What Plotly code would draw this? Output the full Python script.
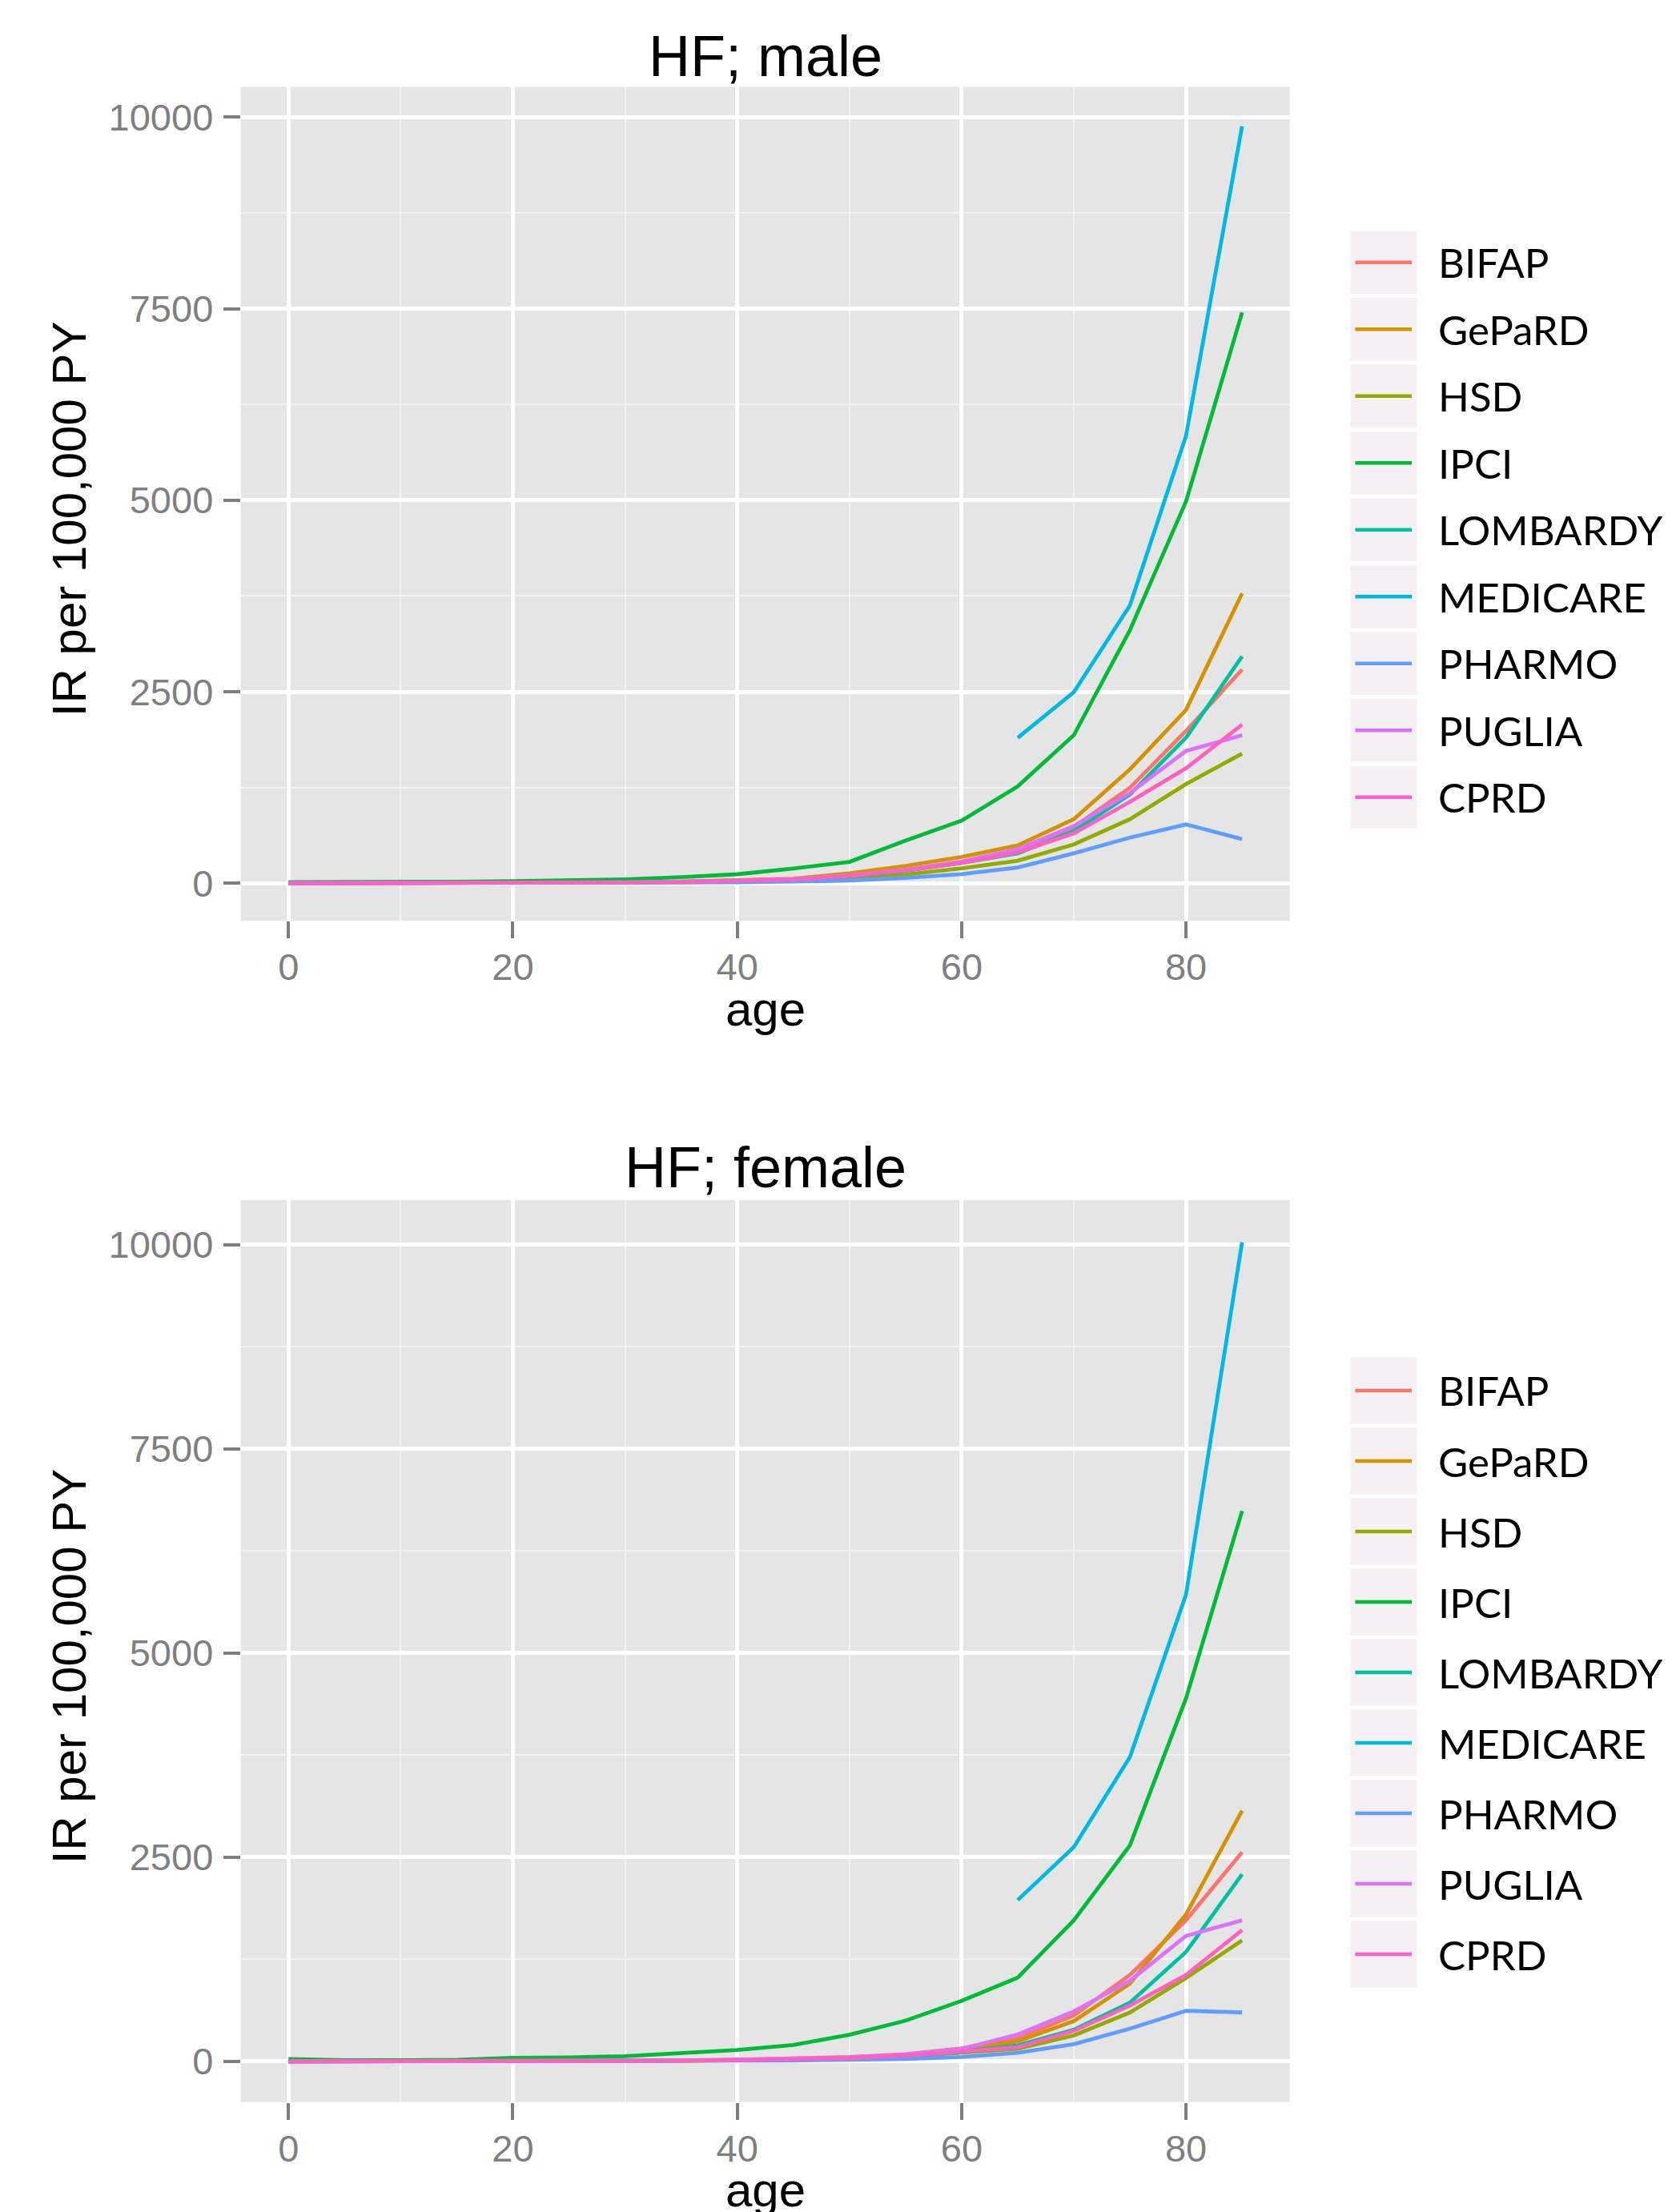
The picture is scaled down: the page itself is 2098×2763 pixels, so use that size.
import plotly.graph_objects as go

W, H = 2098, 2763
OFF = 8  # page body margin of the html page

# ---------------- data ----------------
ages = [0, 5, 10, 15, 20, 25, 30, 35, 40, 45, 50, 55, 60, 65, 70, 75, 80, 85]
medicare_ages = [65, 70, 75, 80, 85]

series_names = ["BIFAP", "GePaRD", "HSD", "IPCI", "LOMBARDY", "MEDICARE", "PHARMO", "PUGLIA", "CPRD"]
series_colors = ["#F8766D", "#D39200", "#93AA00", "#00BA38", "#00C19F",
                 "#00B9E3", "#619CFF", "#DB72FB", "#FF61C3"]

# male
male_bifap    = [2, 2, 2, 3, 5, 8, 12, 20, 30, 50, 95, 170, 270, 425, 733, 1247, 1988, 2790]
male_gepard   = [3, 3, 3, 4, 6, 9, 14, 22, 35, 60, 130, 226, 345, 495, 836, 1487, 2262, 3783]
male_hsd      = [1, 1, 1, 2, 3, 5, 8, 13, 20, 35, 70, 115, 195, 295, 507, 836, 1295, 1693]
male_ipci     = [15, 15, 15, 20, 28, 35, 52, 80, 118, 192, 279, 557, 817, 1265, 1933, 3304, 4983, 7450]
male_lombardy = [2, 2, 2, 3, 4, 7, 11, 18, 28, 48, 92, 165, 265, 391, 679, 1158, 1899, 2961]
male_medicare = [1899, 2495, 3626, 5840, 9880]
male_pharmo   = [1, 1, 1, 1, 2, 3, 5, 8, 13, 22, 35, 70, 120, 206, 391, 596, 768, 576]
male_puglia   = [2, 2, 2, 3, 5, 8, 13, 21, 32, 55, 100, 178, 285, 445, 747, 1179, 1727, 1933]
male_cprd     = [2, 2, 2, 3, 5, 8, 12, 19, 29, 50, 95, 168, 265, 404, 651, 1062, 1501, 2070]

# female
female_bifap    = [2, 2, 2, 2, 3, 5, 8, 12, 20, 35, 55, 90, 160, 282, 565, 1059, 1729, 2562]
female_gepard   = [2, 2, 2, 2, 3, 5, 7, 11, 18, 30, 45, 75, 141, 247, 494, 953, 1800, 3070]
female_hsd      = [1, 1, 1, 1, 2, 3, 5, 8, 13, 22, 35, 60, 110, 155, 318, 600, 1023, 1482]
female_ipci     = [30, 15, 15, 20, 45, 49, 65, 98, 140, 203, 327, 500, 742, 1026, 1729, 2646, 4446, 6739]
female_lombardy = [1, 1, 1, 1, 2, 4, 6, 10, 16, 27, 40, 65, 120, 198, 388, 720, 1341, 2293]
female_medicare = [1976, 2625, 3726, 5716, 10030]
female_pharmo   = [1, 1, 1, 1, 1, 2, 3, 5, 8, 12, 20, 30, 56, 106, 212, 402, 621, 600]
female_puglia   = [2, 2, 2, 2, 3, 5, 8, 13, 22, 35, 50, 85, 154, 330, 614, 988, 1538, 1729]
female_cprd     = [2, 2, 2, 2, 3, 5, 7, 11, 17, 28, 42, 70, 125, 176, 374, 685, 1059, 1609]

male_values = [male_bifap, male_gepard, male_hsd, male_ipci, male_lombardy,
               male_medicare, male_pharmo, male_puglia, male_cprd]
female_values = [female_bifap, female_gepard, female_hsd, female_ipci, female_lombardy,
                 female_medicare, female_pharmo, female_puglia, female_cprd]

panel_titles = ["HF; male", "HF; female"]
x_title = "age"
y_title = "IR per 100,000 PY"

# ---------------- layout geometry (page pixels) ----------------
def px(x):
    return (x - OFF) / W


def py(y):
    return 1 - (y - OFF) / H


plot_left, plot_right = 300.7, 1610.7
panels = [
    dict(top=108.3, bottom=1150.0, yrange=[-488, 10397], title_y=70,
         legend_y0=327.7, legend_step=83.5),
    dict(top=1499.0, bottom=2625.7, yrange=[-497, 10546], title_y=1458,
         legend_y0=1737.0, legend_step=88.0),
]

fig = go.Figure()
shapes = []
annotations = []

AX_FONT = "Liberation Sans, Arial, sans-serif"
LEG_FONT = "Lato, Open Sans, sans-serif"

for p_i, (panel, values) in enumerate(zip(panels, [male_values, female_values])):
    xa = "x" if p_i == 0 else "x2"
    ya = "y" if p_i == 0 else "y2"
    for name, color, vals in zip(series_names, series_colors, values):
        xs = medicare_ages if name == "MEDICARE" else ages
        fig.add_trace(go.Scatter(x=xs, y=vals, mode="lines", name=name,
                                 line=dict(color=color, width=4.8),
                                 xaxis=xa, yaxis=ya, showlegend=False))

    ax_common = dict(
        showline=False, zeroline=False, showgrid=True, gridcolor="white", gridwidth=4.5,
        ticks="outside", ticklen=21, tickwidth=4, tickcolor="#7F7F7F",
        tickfont=dict(family=AX_FONT, size=47, color="#7F7F7F"),
    )
    xkey = "xaxis" if p_i == 0 else "xaxis2"
    ykey = "yaxis" if p_i == 0 else "yaxis2"
    fig.layout[xkey] = dict(
        domain=[px(plot_left), px(plot_right)], range=[-4.25, 89.25],
        anchor=ya, tick0=0, dtick=20, ticklabelstandoff=-4,
        minor=dict(tick0=0, dtick=10, showgrid=True, gridcolor="#F2F2F2", gridwidth=2.2, ticks=""),
        **ax_common)
    fig.layout[ykey] = dict(
        domain=[py(panel["bottom"]), py(panel["top"])], range=panel["yrange"],
        anchor=xa, tick0=0, dtick=2500, tickformat="d", ticklabelstandoff=3,
        minor=dict(tick0=0, dtick=1250, showgrid=True, gridcolor="#F2F2F2", gridwidth=2.2, ticks=""),
        **ax_common)

    cx = (plot_left + plot_right) / 2
    # panel title
    annotations.append(dict(text=panel_titles[p_i], x=px(cx), y=py(panel["title_y"]),
                            xref="paper", yref="paper", xanchor="center", yanchor="middle",
                            showarrow=False, font=dict(family=AX_FONT, size=72, color="black")))
    # x axis title
    annotations.append(dict(text=x_title, x=px(cx), y=py(panel["bottom"] + 110),
                            xref="paper", yref="paper", xanchor="center", yanchor="middle",
                            showarrow=False, font=dict(family=AX_FONT, size=60, color="black")))
    # y axis title
    annotations.append(dict(text=y_title, x=px(86), y=py((panel["top"] + panel["bottom"]) / 2 + 19),
                            xref="paper", yref="paper", xanchor="center", yanchor="middle",
                            textangle=-90, showarrow=False,
                            font=dict(family=AX_FONT, size=60, color="black")))

    # legend (manual, ggplot style)
    for k, (name, color) in enumerate(zip(series_names, series_colors)):
        yc = panel["legend_y0"] + k * panel["legend_step"]
        half = (panel["legend_step"] - 5) / 2
        shapes.append(dict(type="rect", xref="paper", yref="paper",
                           x0=px(1686.4), x1=px(1769.5), y0=py(yc + half), y1=py(yc - half),
                           fillcolor="#F5F0F3", line=dict(width=0), layer="above"))
        shapes.append(dict(type="line", xref="paper", yref="paper",
                           x0=px(1692.4), x1=px(1763.0), y0=py(yc), y1=py(yc),
                           line=dict(color=color, width=4.5), layer="above"))
        annotations.append(dict(text=name, x=px(1794), y=py(yc), xref="paper", yref="paper",
                                xanchor="left", yanchor="middle", showarrow=False,
                                font=dict(family=LEG_FONT, size=51, color="black")))

fig.update_layout(
    width=W, height=H, margin=dict(l=0, r=0, t=0, b=0),
    paper_bgcolor="white", plot_bgcolor="#E5E5E5",
    shapes=shapes, annotations=annotations, showlegend=False,
)

fig.write_html("out.html")
